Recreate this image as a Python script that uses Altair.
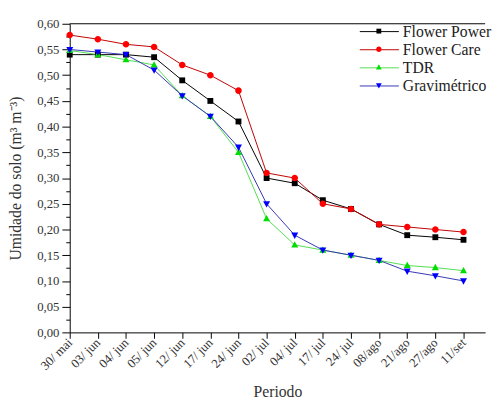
import json
import altair as alt
import pandas as pd

periods = ["30/ mai", "03/ jun", "04/ jun", "05/ jun", "12/ jun", "17/ jun", "24/ jun",
           "02/ jul", "04/ jul", "17/ jul", "24/ jul", "08/ago", "21/ago", "27/ago", "11/set"]

series = ["Flower Power", "Flower Care", "TDR", "Gravimétrico"]

flower_power = [0.540, 0.540, 0.540, 0.535, 0.490, 0.450, 0.410, 0.300, 0.290, 0.257, 0.240, 0.210, 0.189, 0.185, 0.180]
flower_care = [0.578, 0.570, 0.560, 0.555, 0.520, 0.500, 0.470, 0.310, 0.300, 0.250, 0.240, 0.210, 0.205, 0.200, 0.195]
tdr = [0.548, 0.540, 0.530, 0.520, 0.460, 0.420, 0.350, 0.221, 0.170, 0.160, 0.150, 0.140, 0.130, 0.126, 0.120]
gravimetrico = [0.550, 0.545, 0.540, 0.510, 0.460, 0.420, 0.360, 0.250, 0.189, 0.160, 0.150, 0.140, 0.119, 0.110, 0.100]

y_ticks = [0.0, 0.025, 0.05, 0.075, 0.10, 0.125, 0.15, 0.175, 0.20, 0.225, 0.25, 0.275,
           0.30, 0.325, 0.35, 0.375, 0.40, 0.425, 0.45, 0.475, 0.50, 0.525, 0.55, 0.575, 0.60]

line_colors = ["#000000", "#c00000", "#50dd50", "#3535b5"]
marker_colors = ["#000000", "#ff0000", "#00dd00", "#0000ff"]
# marker paths in the unit box, kept small so the same paths serve the plot and the legend
marker_paths = [
    "M-0.26,-0.26H0.26V0.26H-0.26Z",
    "M-0.29,0A0.29,0.29 0 1,0 0.29,0A0.29,0.29 0 1,0 -0.29,0Z",
    "M0,-0.33L0.31,0.23H-0.31Z",
    "M0,0.33L0.31,-0.23H-0.31Z",
]
# an extra, unused domain entry keeps the marker legend separate from the line legend
marker_domain = series + ["extra"]
marker_range_paths = marker_paths + ["M0,0"]
marker_range_colors = marker_colors + ["transparent"]

rows = []
for name, vals in zip(series, [flower_power, flower_care, tdr, gravimetrico]):
    for i, v in enumerate(vals):
        rows.append({"idx": i, "value": v, "series": name, "serie_m": name})
df = pd.DataFrame(rows)

FONT = "Liberation Serif"
LX, LY, LSIZE = 306, -2, 361

legend_lines = alt.Legend(
    title=None, orient="none", legendX=LX, legendY=LY, padding=0,
    symbolType="M-2.1,0H2.1", symbolSize=LSIZE, symbolStrokeWidth=1,
    rowPadding=0.5, labelOffset=14,
    labelFont=FONT, labelFontSize=16, labelColor="#222222", zindex=1,
)
legend_marks = alt.Legend(
    title=None, orient="none", legendX=LX, legendY=LY, padding=0, values=series,
    symbolSize=LSIZE, symbolStrokeWidth=0,
    rowPadding=0.5, labelOffset=14,
    labelFont=FONT, labelFontSize=16, labelOpacity=0, zindex=2,
)

label_expr = json.dumps(periods) + "[datum.value]"

x = alt.X("idx:Q",
          scale=alt.Scale(domain=[0, 14.77], nice=False, zero=False),
          axis=alt.Axis(values=list(range(len(periods))), labelExpr=label_expr,
                        title="Periodo", grid=False, tickSize=6, tickColor="#000",
                        domainColor="#000", labelAngle=315, labelAlign="right",
                        labelBaseline="middle", labelPadding=2, labelOverlap=False,
                        labelFont=FONT, labelFontSize=13, labelColor="#333333",
                        titleFont=FONT, titleFontSize=16, titleFontWeight="normal",
                        titleColor="#333333", titlePadding=12))

y = alt.Y("value:Q",
          scale=alt.Scale(domain=[0, 0.6], nice=False),
          axis=alt.Axis(values=y_ticks, labelOverlap=False,
                        labelExpr="round(datum.value*1000) % 50 == 0 ? replace(format(datum.value, '.2f'), '.', ',') : ''",
                        tickSize={"condition": {"test": "round(datum.value*1000) % 50 != 0", "value": 4}, "value": 8},
                        title="Umidade do solo (m³ m⁻³)", grid=False, tickColor="#000",
                        domainColor="#000", labelPadding=3,
                        labelFont=FONT, labelFontSize=13, labelColor="#333333",
                        titleFont=FONT, titleFontSize=16, titleFontWeight="normal",
                        titleColor="#333333", titlePadding=13))

base = alt.Chart(df)

lines = base.mark_line(strokeWidth=1).encode(
    x=x, y=y,
    stroke=alt.Stroke("series:N", scale=alt.Scale(domain=series, range=line_colors),
                      legend=legend_lines),
)

points = base.mark_point(filled=True, size=530, opacity=1).encode(
    x=x, y=y,
    fill=alt.Fill("serie_m:N", scale=alt.Scale(domain=marker_domain, range=marker_range_colors),
                  legend=legend_marks),
    shape=alt.Shape("serie_m:N", scale=alt.Scale(domain=marker_domain, range=marker_range_paths),
                    legend=legend_marks),
)

top = alt.Chart(pd.DataFrame({"value": [0.6]})).mark_rule(color="#000", strokeWidth=1).encode(
    y=y
)

chart = alt.layer(lines, points, top).properties(
    width=424, height=315, padding={"left": 0, "top": 6, "right": 0, "bottom": 0}
).configure(font=FONT).configure_view(stroke=None)

chart.save("out.html", embed_options={"renderer": "svg", "actions": False})
